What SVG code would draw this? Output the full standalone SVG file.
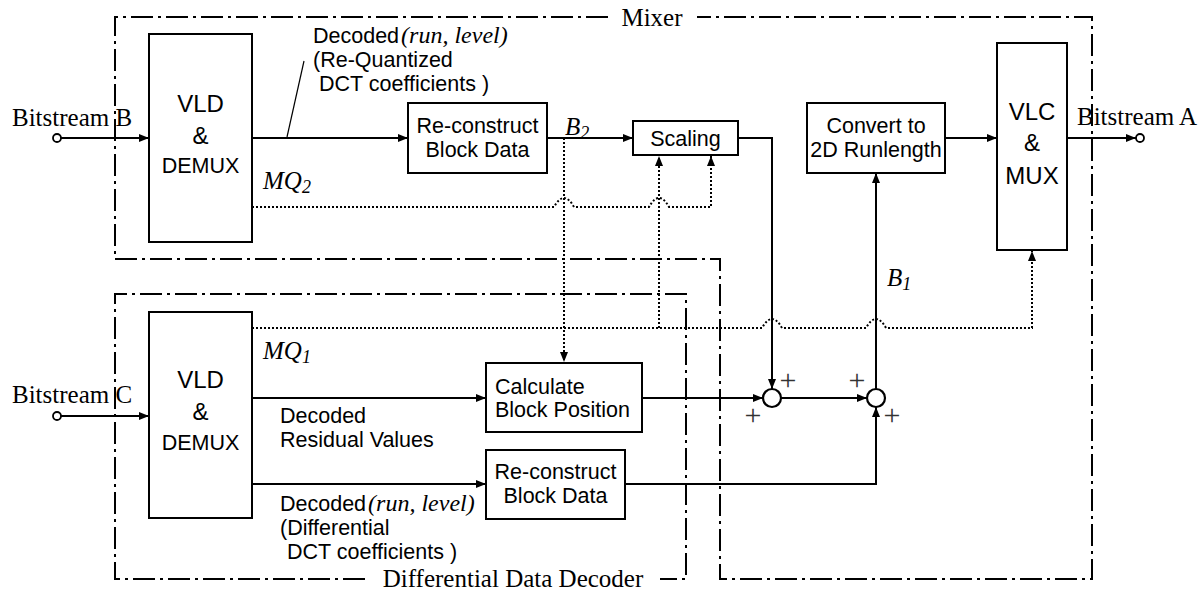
<svg xmlns="http://www.w3.org/2000/svg" width="1201" height="591" viewBox="0 0 1201 591">
  <defs>
    <style>
      .box { fill: #fff; stroke: #000; stroke-width: 2; }
      .sum { fill: #fff; stroke: #000; stroke-width: 2.2; }
      .port { fill: #fff; stroke: #000; stroke-width: 1.8; }
      .wire { fill: none; stroke: #000; stroke-width: 2; }
      .dot { fill: none; stroke: #000; stroke-width: 2; stroke-dasharray: 2 2; }
      .frame { fill: none; stroke: #000; stroke-width: 2; stroke-dasharray: 22 5 3 5; }
      .thin { fill: none; stroke: #000; stroke-width: 1.2; }
      .sans { font-family: "Liberation Sans", Arial, Helvetica, sans-serif; font-size: 21.5px; fill: #000; }
      .big { font-family: "Liberation Sans", Arial, Helvetica, sans-serif; font-size: 24px; fill: #000; text-anchor: middle; }
      .serif { font-family: "Liberation Serif", "Times New Roman", serif; font-size: 25px; fill: #000; }
      .math { font-family: "Liberation Serif", "Times New Roman", serif; font-size: 25px; font-style: italic; fill: #000; }
      .ital { font-family: "Liberation Serif", "Times New Roman", serif; font-size: 24px; font-style: italic; }
      .plus { font-family: "Liberation Serif", "Times New Roman", serif; font-size: 30px; fill: #333; text-anchor: middle; }
      .mid { text-anchor: middle; }
    </style>
    <marker id="arrow" viewBox="0 0 10 8" refX="10" refY="4" markerWidth="10" markerHeight="8" markerUnits="userSpaceOnUse" orient="auto">
      <path d="M0,0 L10,4 L0,8 z" fill="#000"/>
    </marker>
  </defs>

  <rect width="1201" height="591" fill="#fff"/>

  <!-- dash-dot boundaries -->
  <g id="mixer-frame">
    <path class="frame" d="M608,17 H115 V259 H720 V579 H1092 V17 H697"/>
    <text class="serif mid" x="652" y="26">Mixer</text>
  </g>
  <g id="decoder-frame">
    <path class="frame" d="M365,579 H115 V294 H686 V579 H660"/>
    <text class="serif mid" x="513" y="587">Differential Data Decoder</text>
  </g>

  <!-- connectors -->
  <g id="connectors">
    <!-- solid data paths -->
    <path class="wire" d="M61,138 H149" marker-end="url(#arrow)"/>
    <path class="wire" d="M252,138 H408" marker-end="url(#arrow)"/>
    <path class="wire" d="M547,138 H633" marker-end="url(#arrow)"/>
    <path class="wire" d="M738,138 H772 V389" marker-end="url(#arrow)"/>
    <path class="wire" d="M945,138 H997" marker-end="url(#arrow)"/>
    <path class="wire" d="M1067,138 H1136" marker-end="url(#arrow)"/>
    <path class="wire" d="M61,416 H149" marker-end="url(#arrow)"/>
    <path class="wire" d="M252,398 H486" marker-end="url(#arrow)"/>
    <path class="wire" d="M642,398 H763" marker-end="url(#arrow)"/>
    <path class="wire" d="M781,398 H867" marker-end="url(#arrow)"/>
    <path class="wire" d="M252,484 H486" marker-end="url(#arrow)"/>
    <path class="wire" d="M625,484 H876 V407" marker-end="url(#arrow)"/>
    <path class="wire" d="M876,389 V173" marker-end="url(#arrow)"/>
    <!-- leader line for the coefficient label -->
    <path class="thin" d="M304,61 L287,137"/>

    <!-- dotted control paths -->
    <path class="dot" d="M564,138 V362" marker-end="url(#arrow)"/>
    <path class="dot" d="M252,207 H554 Q564,189 574,207 H649 Q659,189 669,207 H711 V156" marker-end="url(#arrow)"/>
    <path class="dot" d="M659,328 V156" marker-end="url(#arrow)"/>
    <path class="dot" d="M252,328 H762 Q772,310 782,328 H866 Q876,310 886,328 H1032 V251" marker-end="url(#arrow)"/>
  </g>

  <!-- ports -->
  <g id="port-b">
    <circle class="port" cx="57" cy="138" r="4"/>
    <text class="serif" x="12" y="126">Bitstream B</text>
  </g>
  <g id="port-c">
    <circle class="port" cx="57" cy="416" r="4"/>
    <text class="serif" x="12" y="403">Bitstream C</text>
  </g>
  <g id="port-a">
    <circle class="port" cx="1140" cy="138" r="4"/>
    <text class="serif" x="1077" y="125">Bitstream A</text>
  </g>

  <!-- nodes -->
  <g id="vld-b">
    <rect class="box" x="149" y="34" width="103" height="208"/>
    <text class="big" x="200.5" y="112">VLD</text>
    <text class="big" x="200.5" y="144">&amp;</text>
    <text class="sans mid" x="200.5" y="173">DEMUX</text>
  </g>
  <g id="vld-c">
    <rect class="box" x="149" y="312" width="103" height="206"/>
    <text class="big" x="200.5" y="388">VLD</text>
    <text class="big" x="200.5" y="420">&amp;</text>
    <text class="sans mid" x="200.5" y="450">DEMUX</text>
  </g>
  <g id="reconstruct-b">
    <rect class="box" x="408" y="103" width="139" height="70"/>
    <text class="sans mid" x="477.5" y="133">Re-construct</text>
    <text class="sans mid" x="477.5" y="157">Block Data</text>
  </g>
  <g id="scaling">
    <rect class="box" x="633" y="121" width="105" height="34"/>
    <text class="sans mid" x="685.5" y="146">Scaling</text>
  </g>
  <g id="convert">
    <rect class="box" x="807" y="103" width="138" height="70"/>
    <text class="sans mid" x="876" y="133">Convert to</text>
    <text class="sans mid" x="876" y="157">2D Runlength</text>
  </g>
  <g id="vlc">
    <rect class="box" x="997" y="43" width="70" height="207"/>
    <text class="big" x="1032" y="120" font-size="25">VLC</text>
    <text class="big" x="1032" y="151" font-size="25">&amp;</text>
    <text class="big" x="1032" y="184" font-size="25">MUX</text>
  </g>
  <g id="calc-position">
    <rect class="box" x="486" y="363" width="156" height="69"/>
    <text class="sans" x="495" y="394">Calculate</text>
    <text class="sans" x="495" y="417">Block Position</text>
  </g>
  <g id="reconstruct-c">
    <rect class="box" x="486" y="450" width="139" height="69"/>
    <text class="sans mid" x="555.5" y="479">Re-construct</text>
    <text class="sans mid" x="555.5" y="503">Block Data</text>
  </g>
  <g id="sum-1">
    <circle class="sum" cx="772" cy="398" r="9"/>
    <text class="plus" x="788" y="390">+</text>
    <text class="plus" x="753" y="425">+</text>
  </g>
  <g id="sum-2">
    <circle class="sum" cx="876" cy="398" r="9"/>
    <text class="plus" x="857" y="390">+</text>
    <text class="plus" x="892" y="425">+</text>
  </g>

  <!-- signal labels -->
  <g id="labels">
    <text class="sans" x="313" y="43">Decoded<tspan class="ital" dx="2">(run, level)</tspan></text>
    <text class="sans" x="313" y="67">(Re-Quantized</text>
    <text class="sans" x="319" y="91">DCT coefficients )</text>
    <text class="math" x="263" y="189">MQ<tspan font-size="18" dy="4">2</tspan></text>
    <text class="math" x="565" y="135">B<tspan font-size="18" dy="4">2</tspan></text>
    <text class="math" x="887" y="286">B<tspan font-size="18" dy="4">1</tspan></text>
    <text class="math" x="263" y="359">MQ<tspan font-size="18" dy="4">1</tspan></text>
    <text class="sans" x="280" y="423">Decoded</text>
    <text class="sans" x="280" y="447">Residual Values</text>
    <text class="sans" x="280" y="511">Decoded<tspan class="ital" dx="2">(run, level)</tspan></text>
    <text class="sans" x="280" y="535">(Differential</text>
    <text class="sans" x="287" y="559">DCT coefficients )</text>
  </g>
</svg>
